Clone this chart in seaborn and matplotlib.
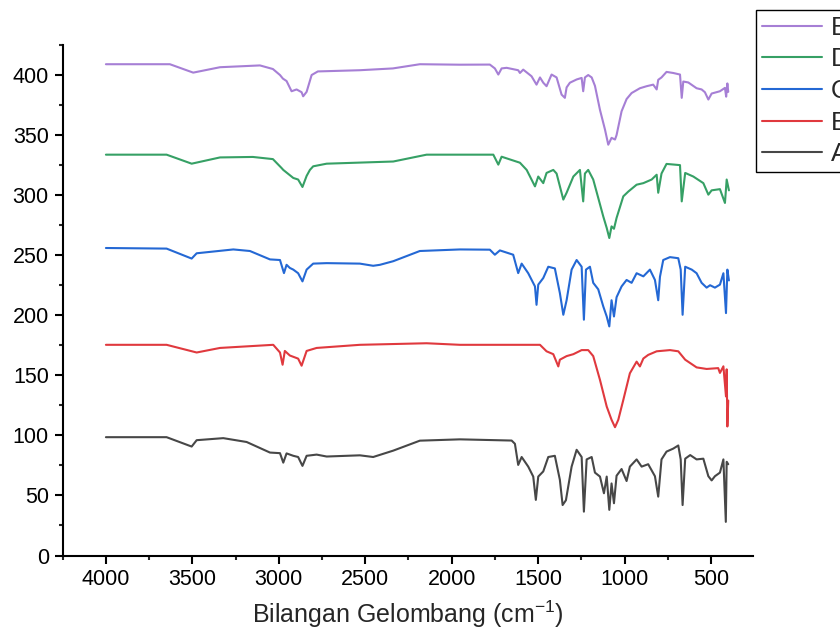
import matplotlib
matplotlib.use("Agg")
import matplotlib.pyplot as plt
from matplotlib.ticker import MultipleLocator
import seaborn as sns
import pandas as pd

# ---- data (wavenumber cm-1, intensity) ----
E_wn = [4000, 3630, 3495, 3340, 3109, 3034, 2993, 2976, 2955, 2926, 2897, 2868, 2859, 2839, 2810, 2774,
        2531, 2340, 2184, 1952, 1779, 1750, 1730, 1711, 1682, 1615, 1605, 1586, 1538, 1509, 1489, 1470,
        1451, 1422, 1393, 1364, 1345, 1335, 1316, 1277, 1248, 1239, 1229, 1210, 1190, 1171, 1142, 1113,
        1094, 1075, 1055, 1046, 1017, 988, 959, 911, 872, 834, 814, 805, 786, 757, 718, 679, 669, 660,
        631, 583, 554, 535, 515, 496, 448, 419, 412, 405, 400]
E_val = [409, 409, 402, 406.5, 408, 405, 400, 397, 395, 386.5, 388, 385.7, 382.3, 386, 400, 403,
         404, 405.5, 409, 408.6, 408.7, 405.5, 400.4, 405.5, 406, 404, 401.7, 404.5, 399, 392, 398, 393.6,
         390.7, 400.4, 398, 383.7, 381, 389.7, 393.6, 396.3, 397.6, 386.5, 398, 400, 398, 391, 371, 354.6,
         342, 347.7, 346.3, 350, 369.8, 380, 385, 389, 390.7, 392, 388, 396, 398, 402.6, 401.7, 400.4, 381, 394.6,
         393.8, 389, 388, 385.7, 379.6, 384.6, 386.5, 389.3, 382, 393, 386]

D_wn = [4000, 3649, 3504, 3340, 3150, 3034, 2984, 2974, 2916, 2888, 2863, 2839, 2820, 2801, 2723, 2338,
        2145, 1952, 1759, 1730, 1711, 1605, 1566, 1518, 1499, 1470, 1451, 1412, 1393, 1354, 1335, 1296,
        1258, 1239, 1229, 1210, 1181, 1152, 1123, 1103, 1088, 1075, 1061, 1046, 1007, 978, 930, 891, 843,
        814, 805, 786, 757, 679, 669, 649, 602, 544, 515, 496, 448, 419, 409, 396]
D_val = [333.7, 333.7, 326.2, 331.4, 331.8, 330, 322.6, 321, 314.3, 313, 306.8, 316, 321, 324, 326.2, 328,
         333.7, 333.7, 333.7, 325.4, 332, 327, 321, 307.3, 315.5, 310, 318.5, 321, 318, 296.3, 302, 315.5,
         321, 294.8, 318, 321, 313, 297.7, 282.3, 272.7, 264.3, 274, 272, 281, 299, 303, 308.7, 310, 313,
         317, 302, 318, 326, 325, 294.8, 318.5, 315.5, 310, 300.4, 304, 305, 293.5, 313, 304]

C_wn = [4000, 3649, 3504, 3475, 3263, 3167, 3051, 2993, 2970, 2955, 2936, 2916, 2888, 2863, 2839, 2801,
        2723, 2531, 2454, 2415, 2338, 2184, 1952, 1779, 1750, 1721, 1644, 1615, 1595, 1557, 1518, 1509,
        1499, 1470, 1441, 1403, 1374, 1354, 1335, 1306, 1277, 1248, 1235, 1223, 1200, 1181, 1152, 1123,
        1103, 1088, 1075, 1061, 1046, 1017, 988, 959, 930, 891, 853, 824, 805, 795, 776, 737, 689, 675,
        664, 649, 611, 583, 554, 525, 505, 477, 448, 428, 413, 405, 396]
C_val = [256, 255.5, 247.2, 251.6, 254.8, 253.5, 246.5, 246, 235.1, 242, 239.4, 238, 235, 228.2, 238, 243,
         243.4, 243, 241.2, 242, 245, 253.5, 254.8, 254.6, 250.4, 254, 250.4, 235.1, 243, 235, 224, 208.7,
         225.5, 231, 240.4, 239, 218.5, 200.4, 212.5, 238, 246, 240.4, 196.3, 238, 240.4, 227, 221.6, 207.4,
         199, 190.7, 212.5, 199, 215, 224, 229.4, 227, 235, 232.4, 238, 229.4, 212.5, 232, 246, 248.4, 247.5, 238,
         200.4, 240.4, 238, 235, 227, 223, 225, 223, 225.5, 235, 201.8, 238, 229]

B_wn = [4000, 3649, 3475, 3340, 3032, 2993, 2978, 2965, 2936, 2888, 2868, 2839, 2781, 2531, 2145, 1952,
        1489, 1451, 1412, 1383, 1374, 1335, 1296, 1248, 1210, 1181, 1142, 1103, 1075, 1055, 1036, 1007,
        969, 930, 911, 891, 863, 814, 737, 689, 649, 583, 525, 458, 448, 428, 413, 409, 405, 400]
B_val = [175.4, 175.4, 169, 172.8, 175.4, 169, 158.8, 170.3, 166.5, 163.9, 158, 170.3, 172.8, 175.4, 176.7, 175.4,
         175.4, 170, 167.6, 157.4, 163, 166, 167.6, 171, 171, 166, 146.2, 124, 113, 106.8, 113, 129.5,
         151.7, 161.4, 157.4, 164, 167, 170, 171, 170, 163, 156.6, 155.3, 156, 152, 157.5, 132.4, 155, 107.4, 129]

A_wn = [4000, 3649, 3504, 3475, 3321, 3186, 3051, 2993, 2974, 2955, 2916, 2888, 2863, 2839, 2781, 2723,
        2531, 2454, 2338, 2184, 1952, 1653, 1634, 1615, 1595, 1557, 1528, 1513, 1499, 1470, 1441, 1403,
        1374, 1358, 1339, 1306, 1277, 1248, 1235, 1219, 1190, 1171, 1142, 1119, 1103, 1088, 1075, 1061,
        1046, 1017, 988, 969, 930, 901, 863, 824, 805, 786, 757, 718, 689, 675, 664, 649, 620, 583, 544,
        515, 496, 477, 448, 428, 414, 409, 400]
A_val = [98.5, 98.5, 90.7, 96, 97.7, 94.5, 85.7, 85.2, 77.3, 85, 83, 82, 74.6, 83, 84, 82.4,
         83.4, 82, 87.3, 95.6, 96.7, 95.7, 93, 75.4, 82, 74, 65.7, 46.3, 65.7, 70, 82, 83,
         63, 42, 46, 74, 88, 82, 36.5, 80, 82, 69, 65.7, 51.8, 65.7, 38, 60, 43.5,
         66.4, 72, 62, 74, 80, 74, 76, 66, 49, 80, 86.5, 89, 91.6, 80, 42, 80.6, 83.6, 80, 80.6,
         66, 62.5, 66, 69, 80, 28, 78, 76]

labels = ["A", "B", "C", "D", "E"]
series = {"A": (A_wn, A_val), "B": (B_wn, B_val), "C": (C_wn, C_val),
          "D": (D_wn, D_val), "E": (E_wn, E_val)}
colors = {"A": "#474747", "B": "#e0393e", "C": "#2468d4", "D": "#36a065", "E": "#a67fd5"}

x_ticks = [4000, 3500, 3000, 2500, 2000, 1500, 1000, 500]
y_ticks = [0, 50, 100, 150, 200, 250, 300, 350, 400]

sns.set_style("ticks")
plt.rcParams["font.family"] = ["Liberation Sans", "DejaVu Sans"]
plt.rcParams["mathtext.fontset"] = "custom"
plt.rcParams["mathtext.rm"] = "Liberation Sans"
plt.rcParams["mathtext.default"] = "regular"

fig = plt.figure(figsize=(8.4, 6.35), dpi=100)
ax = fig.add_axes([62.7 / 840, 1 - 555.5 / 635, (753.3 - 62.7) / 840, (555.5 - 45) / 635])

handles = {}
for lab in labels:
    wn, val = series[lab]
    df = pd.DataFrame({"wn": wn, "val": val})
    sns.lineplot(data=df, x="wn", y="val", ax=ax, color=colors[lab], lw=1.5,
                 sort=False, estimator=None, label=lab, legend=False)
    handles[lab] = ax.lines[-1]

ax.set_xlim(4250, 255)
ax.set_ylim(0, 425)
ax.set_xticks(x_ticks)
ax.set_yticks(y_ticks)
ax.xaxis.set_minor_locator(MultipleLocator(250))
ax.yaxis.set_minor_locator(MultipleLocator(25))
for s in ["top", "right"]:
    ax.spines[s].set_visible(False)
for s in ["left", "bottom"]:
    ax.spines[s].set_linewidth(1.5)
    ax.spines[s].set_color("black")
ax.tick_params(which="major", length=6, width=1.5, labelsize=15.5, pad=4, colors="black")
ax.tick_params(which="minor", length=3, width=1.5)
ax.set_xlabel(r"Bilangan Gelombang (cm$^{-1}$)", fontsize=18, labelpad=6)
ax.set_ylabel("")

order = ["E", "D", "C", "B", "A"]
leg = fig.legend([handles[k] for k in order], order, loc="upper left",
                 bbox_to_anchor=(756 / 840, 1 - 10 / 635), bbox_transform=fig.transFigure,
                 borderaxespad=0, frameon=True, fancybox=False, edgecolor="black",
                 framealpha=1, fontsize=18.5, handlelength=2.33, handletextpad=0.35,
                 labelspacing=0.3, borderpad=0.22)
leg.get_frame().set_linewidth(1.0)

fig.savefig("out.png", dpi=100)
